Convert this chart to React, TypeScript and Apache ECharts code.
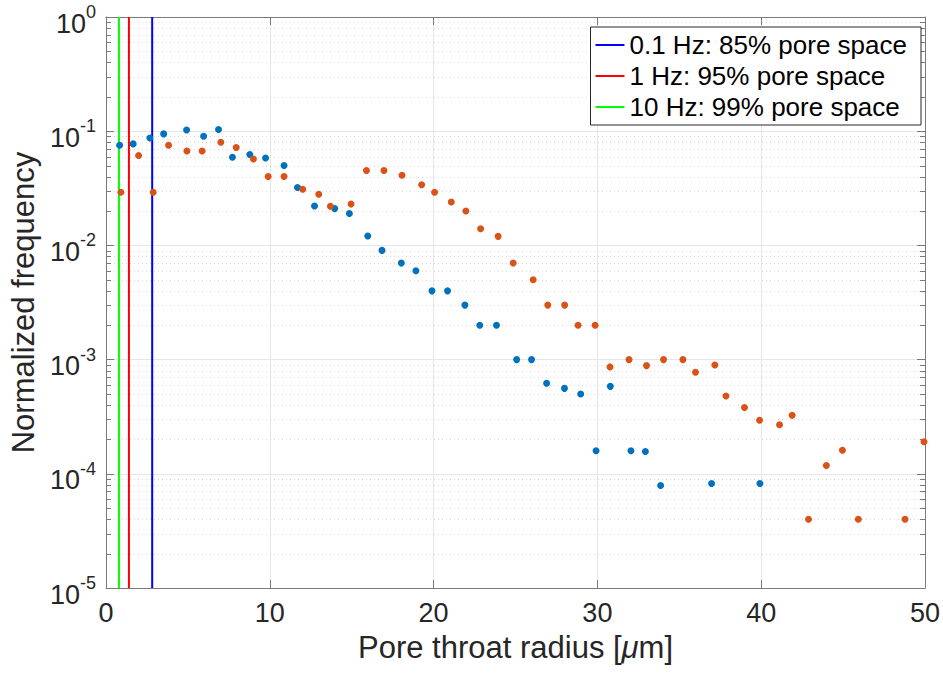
import React, { useEffect, useRef } from "react";
import * as echarts from "echarts";

// Blue series (0.1 Hz sample) – x: pore throat radius [µm], y: normalized frequency
const blueX = [0.83, 1.66, 2.68, 3.52, 4.92, 5.96, 6.87, 7.72, 8.78, 9.74, 10.87, 11.69, 12.73, 13.96, 14.86, 15.98, 16.85, 18.03, 18.92, 19.9, 20.85, 21.91, 22.82, 23.84, 25.07, 25.98, 26.9, 27.99, 28.98, 29.92, 30.79, 32.05, 32.93, 33.86, 36.97, 39.92];
const blueY = [0.0754, 0.0774, 0.0873, 0.0947, 0.1026, 0.0904, 0.1035, 0.0591, 0.0625, 0.0583, 0.05, 0.0321, 0.0221, 0.021, 0.019, 0.0121, 0.00904, 0.007, 0.006, 0.004, 0.004, 0.003, 0.002, 0.002, 0.001, 0.001, 0.00062, 0.00056, 0.0005, 0.000159, 0.000583, 0.000159, 0.000157, 0.000079, 0.0000822, 0.0000822];

// Orange series
const orangeX = [0.91, 1.99, 2.88, 3.82, 4.94, 5.87, 7.01, 7.95, 9.0, 9.9, 10.87, 12.01, 12.99, 13.7, 14.96, 15.9, 16.97, 18.07, 19.27, 20.06, 21.08, 21.97, 22.87, 23.94, 24.86, 26.08, 26.97, 28.0, 28.82, 29.86, 30.77, 31.93, 33.0, 34.04, 35.22, 35.99, 37.17, 37.85, 38.98, 39.9, 41.12, 41.89, 42.89, 43.98, 44.96, 45.93, 48.78, 49.94];
const orangeY = [0.0292, 0.0612, 0.0292, 0.0754, 0.0672, 0.0672, 0.0801, 0.0719, 0.0571, 0.0401, 0.0401, 0.031, 0.028, 0.022, 0.023, 0.0452, 0.0452, 0.0411, 0.034, 0.0292, 0.024, 0.02, 0.014, 0.012, 0.007, 0.005, 0.003, 0.003, 0.002, 0.002, 0.000863, 0.001, 0.000886, 0.001, 0.001, 0.000774, 0.000898, 0.00048, 0.00038, 0.000294, 0.000269, 0.000325, 0.00004, 0.000118, 0.000161, 0.00004, 0.00004, 0.000191];

// Vertical threshold lines
const lineNames = ["0.1 Hz: 85% pore space", "1 Hz: 95% pore space", "10 Hz: 99% pore space"];
const lineX = [2.82, 1.4, 0.79];
const lineColors = ["#0000FF", "#FF0000", "#00FF00"];

// Axis extents / ticks
const xMin = 0;
const xMax = 50;
const xInterval = 10;
const yMin = 1e-5;
const yMax = 1;
const minorExponents = [-5, -4, -3, -2, -1];
const minorMultipliers = [2, 3, 4, 5, 6, 7, 8, 9];

const FONT = "'Liberation Sans', Arial, Helvetica, sans-serif";
const TXT = "#262626";
const AXIS = "#7a7a7a";

export default function App() {
  const ref = useRef<HTMLDivElement>(null);

  useEffect(() => {
    document.body.style.margin = "0";
    if (!ref.current) return;
    const chart = echarts.init(ref.current, undefined, { renderer: "svg" });

    const minorVals: number[][] = [];
    minorExponents.forEach((e) => {
      minorMultipliers.forEach((m) => {
        minorVals.push([xMin, m * Math.pow(10, e)]);
      });
    });

    const option: any = {
      animation: false,
      backgroundColor: "#ffffff",
      textStyle: { fontFamily: FONT },
      grid: { left: 105, right: 18, top: 17, bottom: 85, containLabel: false },
      legend: {
        data: lineNames,
        orient: "vertical",
        right: 22,
        top: 27,
        backgroundColor: "#ffffff",
        borderColor: TXT,
        borderWidth: 1,
        padding: [5, 14, 5, 4],
        itemGap: 5,
        itemWidth: 29,
        itemHeight: 14,
        itemStyle: { opacity: 0 },
        textStyle: { fontSize: 26, color: "#000", fontFamily: FONT },
      },
      xAxis: [
        {
          type: "value",
          min: xMin,
          max: xMax,
          interval: xInterval,
          position: "bottom",
          axisLine: { show: true, onZero: false, lineStyle: { color: AXIS, width: 1 } },
          axisTick: { show: true, inside: true, length: 8, lineStyle: { color: AXIS } },
          axisLabel: { fontSize: 27, color: TXT, margin: 11, fontFamily: FONT },
          splitLine: { show: true, lineStyle: { color: "#e6e6e6", width: 1 } },
          name: "Pore throat radius [{it|μ}m]",
          nameLocation: "middle",
          nameGap: 44,
          nameTextStyle: {
            fontSize: 31,
            color: TXT,
            fontFamily: FONT,
            rich: { it: { fontSize: 31, fontStyle: "italic", color: TXT, fontFamily: FONT } },
          },
        },
        {
          type: "value",
          min: xMin,
          max: xMax,
          interval: xInterval,
          position: "top",
          axisLine: { show: true, onZero: false, lineStyle: { color: AXIS, width: 1 } },
          axisTick: { show: true, inside: true, length: 8, lineStyle: { color: AXIS } },
          axisLabel: { show: false },
          splitLine: { show: false },
        },
      ],
      yAxis: [
        {
          type: "log",
          logBase: 10,
          min: yMin,
          max: yMax,
          position: "left",
          axisLine: { show: true, onZero: false, lineStyle: { color: AXIS, width: 1 } },
          axisTick: { show: true, inside: true, length: 8, lineStyle: { color: AXIS } },
          axisLabel: {
            margin: 10,
            color: TXT,
            fontFamily: FONT,
            formatter: (v: number) => {
              const e = Math.round(Math.log10(v));
              return "{b|10}{s|" + (e < 0 ? "-" + Math.abs(e) : String(e)) + "}";
            },
            rich: {
              b: { fontSize: 27, color: TXT, fontFamily: FONT, verticalAlign: "bottom", padding: [0, 0, -6, 0] },
              s: { fontSize: 18, color: TXT, fontFamily: FONT, verticalAlign: "bottom", padding: [0, 0, 10, 0] },
            },
          },
          splitLine: { show: true, lineStyle: { color: "#e6e6e6", width: 1 } },
          name: "Normalized frequency",
          nameLocation: "middle",
          nameGap: 67,
          nameTextStyle: { fontSize: 31, color: TXT, fontFamily: FONT },
        },
        {
          type: "log",
          logBase: 10,
          min: yMin,
          max: yMax,
          position: "right",
          axisLine: { show: true, onZero: false, lineStyle: { color: AXIS, width: 1 } },
          axisTick: { show: true, inside: true, length: 8, lineStyle: { color: AXIS } },
          axisLabel: { show: false },
          splitLine: { show: false },
        },
      ],
      series: [
        {
          type: "custom",
          name: "minor",
          xAxisIndex: 0,
          yAxisIndex: 0,
          silent: true,
          z: 0,
          clip: false,
          data: minorVals,
          renderItem: (params: any, api: any) => {
            const cs = params.coordSys;
            const y = Math.round(api.coord([api.value(0), api.value(1)])[1]) + 0.5;
            const x0 = cs.x;
            const x1 = cs.x + cs.width;
            return {
              type: "group",
              children: [
                {
                  type: "line",
                  shape: { x1: x0, y1: y, x2: x1, y2: y },
                  style: { stroke: "#d9d9d9", lineWidth: 1, lineDash: [1, 3] },
                },
                {
                  type: "line",
                  shape: { x1: x0, y1: y, x2: x0 + 5, y2: y },
                  style: { stroke: AXIS, lineWidth: 1 },
                },
                {
                  type: "line",
                  shape: { x1: x1 - 5, y1: y, x2: x1, y2: y },
                  style: { stroke: AXIS, lineWidth: 1 },
                },
              ],
            };
          },
        },
        ...lineNames.map((n, i) => ({
          type: "line",
          name: n,
          xAxisIndex: 0,
          yAxisIndex: 0,
          symbol: "none",
          showSymbol: false,
          z: 3,
          lineStyle: { color: lineColors[i], width: 2 },
          itemStyle: { color: lineColors[i] },
          data: [
            [lineX[i], yMin],
            [lineX[i], yMax],
          ],
        })),
        {
          type: "scatter",
          name: "blue",
          xAxisIndex: 0,
          yAxisIndex: 0,
          symbol: "circle",
          symbolSize: 7,
          z: 5,
          itemStyle: { color: "#0072BD", opacity: 1 },
          data: blueX.map((x, i) => [x, blueY[i]]),
        },
        {
          type: "scatter",
          name: "orange",
          xAxisIndex: 0,
          yAxisIndex: 0,
          symbol: "circle",
          symbolSize: 7,
          z: 5,
          itemStyle: { color: "#D95319", opacity: 1 },
          data: orangeX.map((x, i) => [x, orangeY[i]]),
        },
      ],
    };

    chart.setOption(option);
    return () => chart.dispose();
  }, []);

  return <div ref={ref} style={{ width: 943, height: 673 }} />;
}
